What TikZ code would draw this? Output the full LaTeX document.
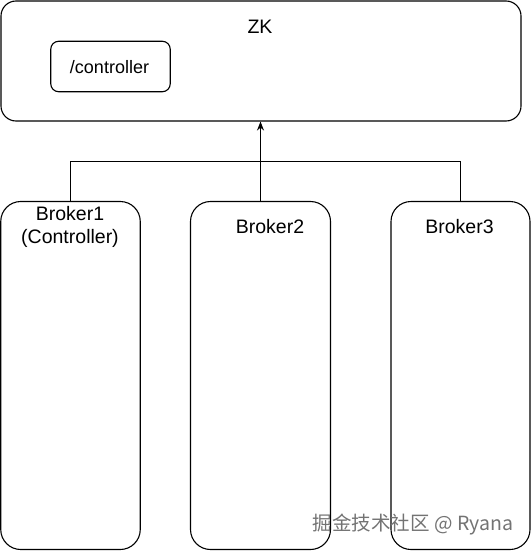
\documentclass[tikz,border=0pt]{standalone}
\usepackage{fontspec}
\setmainfont{Liberation Sans}
\newfontfamily\cjkfont{Noto Sans CJK SC}
\usetikzlibrary{arrows.meta}
\begin{document}
\begin{tikzpicture}[x=1pt,y=-1pt,
  box/.style={draw=black,line width=1.1pt,inner sep=0pt},
  wire/.style={draw=black,line width=1.1pt},
  lbl/.style={inner sep=0pt,font=\fontsize{19.5}{23.5}\selectfont,align=center}]
\useasboundingbox (0,0) rectangle (531,551);
% boxes:
\node[box,rounded corners=15pt,minimum width=520pt,minimum height=120pt] (zk) at (261,61) {};
\node[box,rounded corners=8pt,minimum width=119.5pt,minimum height=50.5pt] (ctrl) at (110.5,66.5) {};
\node[box,rounded corners=20pt,minimum width=139.5pt,minimum height=348pt] (b1) at (70.5,375.5) {};
\node[box,rounded corners=20pt,minimum width=140pt,minimum height=348pt] (b2) at (260.5,375.5) {};
\node[box,rounded corners=20pt,minimum width=139pt,minimum height=348pt] (b3) at (460.5,375.5) {};
% texts:
\node[lbl] (zktext) at (260,26.5) {ZK};
\node[lbl,font=\fontsize{18}{22}\selectfont] (ctrltext) at (109.5,67.5) {/controller};
\node[lbl] (b1text) at (70,227) {Broker1\\(Controller)};
\node[lbl] (b2text) at (270,226.5) {Broker2};
\node[lbl] (b3text) at (459.5,226.5) {Broker3};
% connectors:
\coordinate (join) at (260.5,161.5);
\draw[wire] (b1.north) |- (join);
\draw[wire] (b3.north) |- (join);
\draw[wire,-{Stealth[length=9pt,width=7pt]}] (b2.north) -- (b2.north |- zk.south);
% watermark:
\node[inner sep=0pt,text=black!55,font=\cjkfont\fontsize{19.5}{23}\selectfont] (mark) at (413,524) {掘金技术社区 @ Ryana};
\end{tikzpicture}
\end{document}
